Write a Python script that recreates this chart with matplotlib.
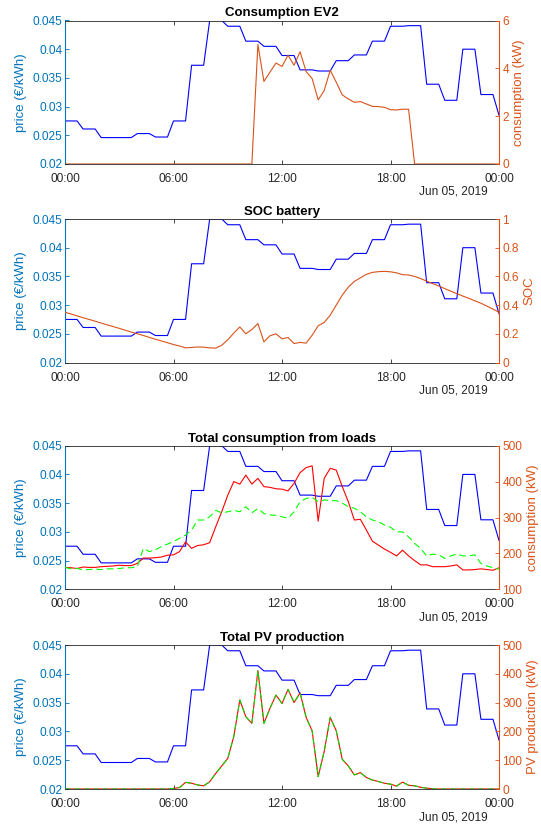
import numpy as np
import pandas as pd
import matplotlib
matplotlib.use('Agg')
import matplotlib.pyplot as plt

plt.rcParams['font.family'] = ['Liberation Sans', 'DejaVu Sans']

# hourly price (EUR/kWh), held for each 20 min step, plus the value at 24:00
price_hourly = [0.0275, 0.0261, 0.0246, 0.0246, 0.0253, 0.0247, 0.0275, 0.0372,
                0.0450, 0.0440, 0.0414, 0.0405, 0.0389, 0.0364, 0.0362, 0.0380,
                0.0390, 0.0414, 0.0440, 0.0441, 0.0339, 0.0311, 0.0400, 0.0321]
price_end = 0.0285

# 20 min values, 00:00 .. 24:00 (73 points)
ev2 = [0] * 32 + [5.0, 3.45, 3.84, 4.22, 4.08, 4.55, 4.13, 4.69, 3.87, 3.57,
                  2.68, 3.07, 3.92, 3.42, 2.89, 2.72, 2.58, 2.61, 2.51, 2.41,
                  2.40, 2.37, 2.27, 2.26, 2.29, 2.29] + [0] * 15

soc = [0.350, 0.338, 0.325, 0.312, 0.300, 0.288, 0.275, 0.262, 0.250, 0.238,
       0.225, 0.212, 0.200, 0.188, 0.175, 0.162, 0.150, 0.138, 0.125, 0.115,
       0.102, 0.105, 0.108, 0.107, 0.102, 0.100, 0.120, 0.158, 0.205, 0.248,
       0.200, 0.230, 0.272, 0.144, 0.186, 0.200, 0.165, 0.174, 0.132, 0.140,
       0.135, 0.190, 0.256, 0.279, 0.330, 0.400, 0.470, 0.525, 0.565, 0.590,
       0.615, 0.628, 0.633, 0.635, 0.632, 0.625, 0.612, 0.610, 0.600, 0.585,
       0.567, 0.550, 0.533, 0.515, 0.497, 0.480, 0.463, 0.447, 0.430, 0.413,
       0.393, 0.372, 0.350]

load_red = [161, 160, 158, 162, 161, 161, 163, 164, 165, 167, 166, 166,
            172, 187, 187, 188, 190, 195, 196, 205, 232, 214, 222, 224,
            230, 274, 316, 362, 400, 393, 418, 393, 409, 386, 384, 380,
            379, 374, 395, 425, 439, 444, 290, 409, 437, 432, 386, 344,
            293, 295, 265, 234, 223, 212, 203, 193, 209, 193, 180, 168,
            168, 163, 163, 163, 165, 168, 154, 154, 155, 157, 155, 153, 160]

load_green = [161, 157, 158, 154, 155, 156, 155, 157, 157, 158, 160, 160,
              163, 214, 205, 210, 219, 226, 233, 242, 251, 265, 293, 293,
              302, 320, 313, 316, 320, 316, 330, 313, 325, 311, 307, 306,
              302, 298, 316, 344, 353, 356, 344, 349, 347, 347, 340, 330,
              326, 316, 302, 293, 288, 279, 273, 260, 260, 246, 228, 214,
              193, 198, 196, 186, 193, 198, 193, 193, 196, 172, 165, 160, 156]

pv = [0] * 18 + [2, 5, 23, 20, 14, 11, 25, 54, 80, 106, 182, 309,
                 251, 228, 411, 228, 280, 326, 297, 346, 300, 334, 249, 202,
                 43, 130, 249, 202, 103, 80, 49, 57, 40, 31, 26, 20,
                 17, 10, 24, 13, 11, 6, 3, 1] + [0] * 11

titles = ['Consumption EV2', 'SOC battery', 'Total consumption from loads', 'Total PV production']
right_labels = ['consumption (kW)', 'SOC', 'consumption (kW)', 'PV production (kW)']
right_lims = [(0, 6), (0, 1), (100, 500), (0, 500)]
right_ticks = [[0, 2, 4, 6], [0, 0.2, 0.4, 0.6, 0.8, 1],
               [100, 200, 300, 400, 500], [0, 100, 200, 300, 400, 500]]
right_ticklabels = [['0', '2', '4', '6'], ['0', '0.2', '0.4', '0.6', '0.8', '1'],
                    ['100', '200', '300', '400', '500'], ['0', '100', '200', '300', '400', '500']]
price_ticks = [0.02, 0.025, 0.03, 0.035, 0.04, 0.045]
price_ticklabels = ['0.02', '0.025', '0.03', '0.035', '0.04', '0.045']
xtick_labels = ['00:00', '06:00', '12:00', '18:00', '00:00']
date_label = 'Jun 05, 2019'

t = pd.date_range('2019-06-05 00:00', periods=73, freq='20min')
xticks = pd.date_range('2019-06-05 00:00', periods=5, freq='6h')
price = np.append(np.repeat(price_hourly, 3), price_end)

BLUE = '#0072BD'
ORANGE = '#D95319'
DARK = '#262626'
W, H = 541, 825
LW = 0.8

fig = plt.figure(figsize=(W / 100, H / 100), dpi=100)

# (top, bottom) of each axes in pixels
boxes = [(20.5, 164), (219, 362.5), (445.7, 589.3), (645, 789)]

for i, (top, bot) in enumerate(boxes):
    ax = fig.add_axes([65 / W, 1 - bot / H, 434 / W, (bot - top) / H])
    ax2 = ax.twinx()

    ax.plot(t, price, color='#0000FF', lw=LW)

    if i == 0:
        ax2.plot(t, ev2, color=ORANGE, lw=LW)
    elif i == 1:
        ax2.plot(t, soc, color=ORANGE, lw=LW)
    elif i == 2:
        ax2.plot(t, load_red, color='#FF0000', lw=LW)
        ax2.plot(t, load_green, color='#00FF00', lw=LW, dashes=(6, 3.5))
    else:
        ax2.plot(t, pv, color='#FF0000', lw=LW)
        ax2.plot(t, pv, color='#00E000', lw=LW, dashes=(5, 3.5))

    ax.set_xlim(t[0], t[-1])
    ax.set_ylim(0.02, 0.045)
    ax2.set_ylim(*right_lims[i])
    ax.set_yticks(price_ticks)
    ax.set_yticklabels(price_ticklabels)
    ax2.set_yticks(right_ticks[i])
    ax2.set_yticklabels(right_ticklabels[i])
    ax.set_xticks(xticks)
    ax.set_xticklabels(xtick_labels)

    ax.tick_params(axis='x', direction='in', top=True, length=3, width=0.6,
                   color=DARK, labelcolor=DARK, labelsize=8.6, pad=6.5)
    ax.tick_params(axis='y', direction='in', length=3, width=0.6,
                   color=BLUE, labelcolor=BLUE, labelsize=8.6, pad=2)
    ax2.tick_params(axis='y', direction='in', length=3, width=0.6,
                    color=ORANGE, labelcolor=ORANGE, labelsize=8.6, pad=2.5)

    for s in ['top', 'bottom']:
        ax.spines[s].set_color(DARK)
        ax.spines[s].set_linewidth(0.6)
        ax2.spines[s].set_visible(False)
    ax.spines['left'].set_color(BLUE)
    ax.spines['left'].set_linewidth(0.8)
    ax.spines['right'].set_visible(False)
    ax2.spines['left'].set_visible(False)
    ax2.spines['right'].set_color(ORANGE)
    ax2.spines['right'].set_linewidth(0.8)

    ax.set_ylabel('price (€/kWh)', color=BLUE, fontsize=9.5)
    ax.yaxis.set_label_coords(-0.088, 0.5)
    ax2.set_ylabel(right_labels[i], color=ORANGE, fontsize=9.5, labelpad=3)

    ax.set_title(titles[i], fontsize=9.5, fontweight='bold', pad=3)
    ax.annotate(date_label, xy=(1, 0), xycoords='axes fraction',
                xytext=(-11, -28), textcoords='offset pixels',
                ha='right', va='center', fontsize=8.6, color=DARK)

fig.savefig('out.png', dpi=100)
